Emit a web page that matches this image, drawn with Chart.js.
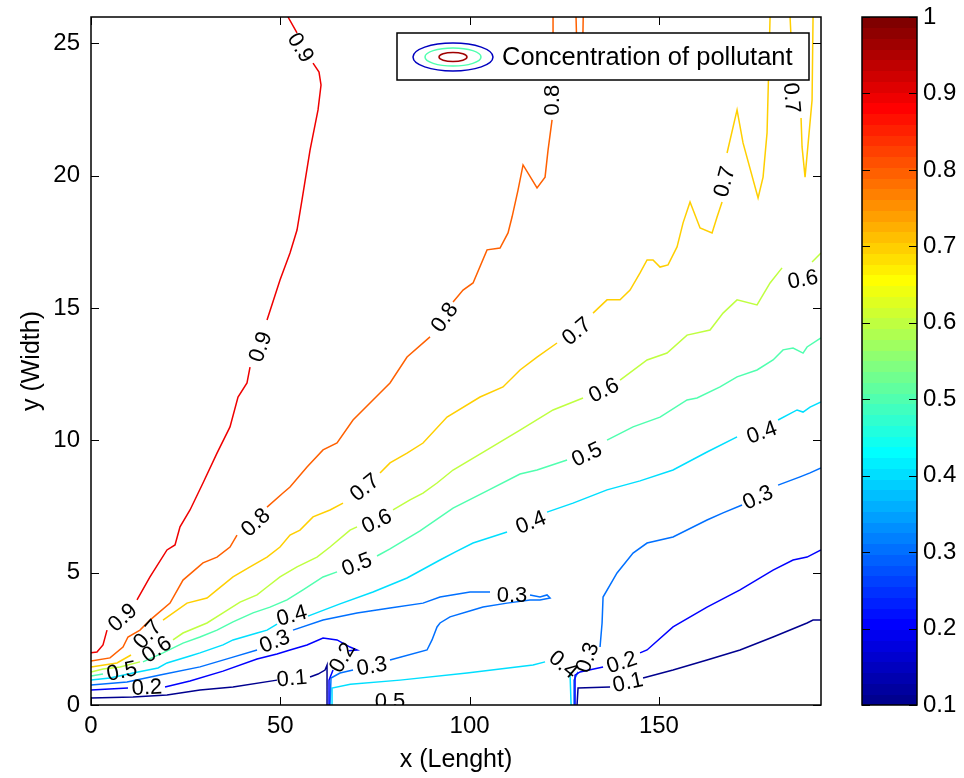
<!DOCTYPE html>
<html><head><meta charset="utf-8">
<script src="https://cdn.jsdelivr.net/npm/chart.js@4.4.1/dist/chart.umd.min.js"></script>
<style>
html,body{margin:0;padding:0;background:#fff;}
#wrap{position:relative;width:964px;height:778px;overflow:hidden;}
#main{position:absolute;left:0;top:0;}
#cbar{position:absolute;left:840px;top:0;}
</style></head><body>
<div id="wrap"><canvas id="main" width="964" height="778"></canvas><canvas id="cbar" width="124" height="778"></canvas></div>
<script>
const FONT = '"Liberation Sans", Arial, Helvetica, sans-serif';

// ---- axes / ticks ----
const xTickValues = [0, 50, 100, 150];
const yTickValues = [0, 5, 10, 15, 20, 25];
const colorbarTicks = [0.1, 0.2, 0.3, 0.4, 0.5, 0.6, 0.7, 0.8, 0.9, 1];
const colorbarTickLabels = ['0.1','0.2','0.3','0.4','0.5','0.6','0.7','0.8','0.9','1'];

// ---- contour lines (x, y) ; null = gap for label ----
const c09 = [[0,1.97],[1.58,2.0],[3.17,2.27],[4.23,2.83],null,[12.15,3.97],[15.58,4.84],[20.07,5.86],[22.19,6.05],[23.51,6.73],[26.15,7.37],[29.58,8.39],[33.28,9.52],[36.71,10.51],[38.83,11.64],[41.2,12.17],[42.0,12.77],null,[46.49,14.55],[49.92,16.06],[52.56,17.08],[54.41,17.95],[55.73,19.09],[57.85,20.97],[59.96,22.49],[60.75,23.43],[60.22,23.92],[58.64,24.26],null,[54.41,25.40],[52.03,26.0]];
const c08 = [[0,1.66],[5.02,1.78],[8.45,2.19],[9.77,2.57],[12.94,2.83],[15.58,3.21],[20.87,3.85],[24.30,4.72],[29.58,5.37],[33.28,5.59],[36.71,5.97],[38.56,6.42],null,[46.49,7.48],[50.71,8.01],[52.56,8.24],[57.05,8.99],[61.28,9.64],[64.98,9.90],[69.20,10.77],[76.33,11.79],[78.97,12.17],[83.47,13.15],[89.54,13.91],null,[95.62,15.23],[98.26,15.68],[100.90,15.95],[104.60,17.20],[108.03,17.27],[110.14,17.84],[111.20,18.44],[112.78,19.46],[114.11,20.41],[117.80,19.54],[119.92,19.95],[120.71,20.97],[121.77,22.11],null,[122.03,23.7],[122.03,26.0]];
const c08b = [[128.1,26.0],[128.4,24.4],[129.8,24.4],[130.0,26.0]];
const c07 = [[0,1.44],[6.87,1.59],[10.57,1.89],null,[19.02,3.21],[25.36,3.85],[30.64,4.04],[33.28,4.35],[37.51,4.84],[42.0,5.22],[46.49,5.59],[49.92,5.97],[52.56,6.42],[55.20,6.61],[58.64,7.11],[63.13,7.37],[66.56,7.63],null,[76.33,8.77],[78.97,9.15],[83.47,9.52],[87.69,9.90],[94.03,10.88],[102.75,11.64],[108.82,12.02],[113.31,12.66],[117.80,13.15],[123.08,13.68],null,[132.59,14.81],[136.29,15.31],[139.73,15.31],[142.37,15.68],[145.01,16.33],[146.86,16.82],[148.44,16.82],[150.29,16.55],[152.40,16.63],[154.78,17.31],[156.37,18.22],[158.21,19.01],[160.86,18.03],[164.03,17.84],[165.35,18.44],[166.67,19.01],null,[167.99,20.86],[170.63,22.49],[172.21,21.24],[176.18,19.16],[177.5,19.95],[178.55,21.62],[179.35,26.0]];
const c07b = [[184.63,26.0],[185.42,23.62],null,[187.53,22.18],[187.80,21.09],[188.59,19.95],[190.44,22.86],[190.70,26.0]];
const c06 = [[0,1.25],[3.17,1.36],[7.66,1.44],[12.94,1.63],null,[21.66,2.46],[24.30,2.72],[30.64,3.10],[34.87,3.48],[39.36,3.89],[43.85,4.16],[46.49,4.46],[49.92,4.84],[54.41,5.22],[59.69,5.59],[63.13,5.97],[68.41,6.61],[70.26,6.73],null,[79.77,7.37],[84.26,7.75],[87.69,8.01],[91.39,8.39],[95.62,8.88],[104.60,9.64],[113.31,10.39],[122.03,11.15],[129.95,11.60],null,[139.73,12.28],[146.86,13.04],[152.14,13.30],[157.42,13.98],[163.50,14.17],[166.93,14.81],[170.63,15.31],[175.91,15.12],[179.35,15.95],[182.51,16.52],null,[190.44,16.74],[192.8,17.08]];
const c05 = [[0,1.10],[3.17,1.17],null,[13.73,1.63],[19.02,1.97],[24.30,2.34],[28.79,2.57],[33.28,2.83],[37.51,3.14],[42.79,3.48],[47.28,3.70],[51.77,3.97],[56.0,4.35],[61.28,4.84],[64.98,5.03],null,[75.54,5.63],[78.97,5.90],[86.90,6.58],[95.62,7.44],[104.60,8.09],[113.31,8.73],[117.80,8.88],[125.73,9.26],null,[136.29,10.01],[143.16,10.51],[150.29,10.88],[157.42,11.53],[160.06,11.60],[166.14,12.02],[170.63,12.40],[175.91,12.66],[180.14,13.04],[182.78,13.42],[185.42,13.49],[188.06,13.30],[189.12,13.53],[192.8,13.87]];
const c04 = [[0,0.94],[5.02,1.02],[11.09,1.21],[17.7,1.40],[20.07,1.59],[26.15,1.85],[28.79,1.97],[34.87,2.27],[37.51,2.46],[43.85,2.72],[46.49,2.83],[49.13,3.06],null,[57.32,3.36],[65.77,3.82],[74.48,4.27],[83.47,4.80],[92.18,5.48],[96.14,5.78],[100.90,6.12],[109.88,6.54],null,[120.44,7.29],[127.31,7.63],[136.29,8.13],[145.01,8.47],[153.72,8.88],[162.70,9.56],[170.63,10.13],null,[181.46,10.77],[186.48,11.15],[188.06,11.07],[189.91,11.26],[192.8,11.45]];
const c04b = [[63.66,0],[63.66,0.64],[68.5,0.78],[81.62,0.94],[99.31,1.21],[116.75,1.51],[119.92,1.63],null,[126.5,1.25],[126.8,0]];
const c03 = [[0,0.76],[9.51,0.87],[18.22,1.13],[28.79,1.44],[37.51,1.81],[43.85,2.08],null,[53.35,2.83],[61.28,3.21],[70.26,3.48],[78.97,3.67],[87.69,3.85],[92.18,4.08],[100.11,4.27],[105.39,4.27],null,[115.95,4.16],[118.59,4.08],[120.44,4.16],[121.24,4.04],[118.59,3.97],[115.95,3.97],[109.88,3.85],[103.54,3.70],[100.90,3.59],[94.82,3.33],[92.18,3.10],[91.39,2.95],[90.07,2.46],[88.75,2.08],[78.97,1.70],null,[69.20,1.32],[65.77,1.21],[63.39,1.02],[63.13,0]];
const c03b = [[192.8,8.96],[189.91,8.77],[187.27,8.62],[181.46,8.31],null,[171.95,7.56],[166.93,7.26],[162.70,6.99],[153.72,6.35],[146.86,6.12],[143.16,5.74],[138.93,4.99],[135.24,4.08],[134.98,3.10],[134.44,2.19],null,[128.63,1.25],[127.58,0.94],[127.58,0]];
const c02 = [[0,0.57],[9.77,0.64],null,[19.55,0.68],[26.15,0.91],[34.87,1.28],[43.85,1.74],[49.13,1.93],[52.56,2.08],[57.05,2.27],[61.28,2.53],[64.98,2.46],[68.41,2.19],[70.26,2.08],[68.0,2.05],null,[63.92,1.32],[62.86,0.94],[62.86,0]];
const c02b = [[192.8,5.86],[189.12,5.59],[185.42,5.48],[180.14,5.10],[171.42,4.35],[162.70,3.70],[153.72,2.95],[146.86,2.08],[145.01,1.97],null,[135.24,1.44],[129.16,1.25],[127.84,1.13],[127.84,0]];
const c01 = [[0,0.26],[11.09,0.30],[20.07,0.38],[28.79,0.57],[37.51,0.68],[49.13,0.94],null,[57.85,1.06],[59.96,1.17],[61.81,1.32],[62.34,1.51],[62.34,0]];
const c01b = [[192.8,3.21],[190.70,3.21],[189.12,3.10],[180.14,2.57],[171.42,2.08],[162.70,1.70],[153.72,1.32],[145.80,1.02],null,[137.09,0.68],[128.63,0.64],[128.37,0]];

const contourPieces = [
  {level:0.1, pts:c01}, {level:0.1, pts:c01b},
  {level:0.2, pts:c02}, {level:0.2, pts:c02b},
  {level:0.3, pts:c03}, {level:0.3, pts:c03b},
  {level:0.4, pts:c04}, {level:0.4, pts:c04b},
  {level:0.5, pts:c05},
  {level:0.6, pts:c06},
  {level:0.7, pts:c07}, {level:0.7, pts:c07b},
  {level:0.8, pts:c08}, {level:0.8, pts:c08b},
  {level:0.9, pts:c09}
];

// ---- contour labels (text, x, y, angle) ----
const contourLabels = [
 {t:'0.9', x:8.45, y:3.29, a:-42},
 {t:'0.9', x:44.90, y:13.53, a:-70},
 {t:'0.9', x:55.20, y:24.83, a:58},
 {t:'0.8', x:43.58, y:6.88, a:-43},
 {t:'0.8', x:93.50, y:14.63, a:-55},
 {t:'0.8', x:122.03, y:22.86, a:-90},
 {t:'0.7', x:15.06, y:2.65, a:-48},
 {t:'0.7', x:72.37, y:8.20, a:-39},
 {t:'0.7', x:128.37, y:14.10, a:-40},
 {t:'0.7', x:167.46, y:19.77, a:-75},
 {t:'0.7', x:184.89, y:22.94, a:85},
 {t:'0.6', x:17.43, y:2.08, a:-34},
 {t:'0.6', x:75.54, y:6.92, a:-25},
 {t:'0.6', x:135.50, y:11.87, a:-26},
 {t:'0.6', x:188.06, y:16.06, a:-10},
 {t:'0.5', x:8.19, y:1.25, a:-12},
 {t:'0.5', x:70.26, y:5.29, a:-21},
 {t:'0.5', x:131.01, y:9.45, a:-25},
 {t:'0.5', x:78.97, y:0.11, a:0},
 {t:'0.4', x:53.09, y:3.36, a:-15},
 {t:'0.4', x:116.22, y:6.88, a:-22},
 {t:'0.4', x:177.23, y:10.28, a:-20},
 {t:'0.4', x:124.67, y:1.51, a:40},
 {t:'0.3', x:48.60, y:2.38, a:-22},
 {t:'0.3', x:111.20, y:4.12, a:0},
 {t:'0.3', x:74.22, y:1.44, a:-10},
 {t:'0.3', x:176.18, y:7.82, a:-25},
 {t:'0.3', x:131.27, y:1.78, a:-70},
 {t:'0.2', x:14.79, y:0.64, a:-3},
 {t:'0.2', x:66.56, y:1.78, a:-60},
 {t:'0.2', x:140.25, y:1.59, a:-18},
 {t:'0.1', x:53.09, y:0.98, a:-5},
 {t:'0.1', x:141.84, y:0.83, a:-12}
];

const legendText = 'Concentration of pollutant';

// ---- MATLAB jet(64) colormap ----
function jet64(i){
  const k = i + 1; let r=0,g=0,b=0;
  if (k <= 8){ b = 0.5 + 0.0625*k; }
  else if (k <= 24){ g = 0.0625*(k-8); b = 1; }
  else if (k <= 40){ r = 0.0625*(k-24); g = 1; b = 1 - 0.0625*(k-24); }
  else if (k <= 56){ r = 1; g = 1 - 0.0625*(k-40); }
  else { r = 1 - 0.0625*(k-56); }
  const h = v => Math.round(Math.max(0,Math.min(1,v))*255);
  return 'rgb(' + h(r) + ',' + h(g) + ',' + h(b) + ')';
}
const CMIN = 0.1, CMAX = 1.0;
function levelColor(v){
  const idx = Math.min(63, Math.floor((v - CMIN)/(CMAX - CMIN)*64 + 1e-9));
  return jet64(idx);
}

const toXY = arr => {
  let lastX = 0;
  return arr.map(p => { if (p){ lastX = p[0]; return {x:p[0], y:p[1]}; } return {x:lastX, y:null}; });
};

const datasets = contourPieces.map(c => ({
  data: toXY(c.pts),
  borderColor: levelColor(c.level),
  backgroundColor: levelColor(c.level),
  borderWidth: 1.5,
  pointRadius: 0,
  showLine: true,
  fill: false,
  tension: 0,
  spanGaps: false
}));

const noPad = s => { s.paddingTop = 0; s.paddingBottom = 0; s.paddingLeft = 0; s.paddingRight = 0; };

const mainDecor = {
  id: 'mainDecor',
  afterDatasetsDraw(chart){
    const {ctx, chartArea:a, scales:{x, y}} = chart;
    // contour labels
    ctx.save();
    ctx.beginPath(); ctx.rect(a.left, a.top, a.right - a.left, a.bottom - a.top); ctx.clip();
    ctx.fillStyle = '#000'; ctx.font = '22px ' + FONT; ctx.textAlign = 'center'; ctx.textBaseline = 'middle';
    for (const L of contourLabels){
      ctx.save();
      ctx.translate(x.getPixelForValue(L.x), y.getPixelForValue(L.y));
      ctx.rotate(L.a*Math.PI/180);
      ctx.fillText(L.t, 0, 0);
      ctx.restore();
    }
    ctx.restore();

    // axes box and inner ticks
    ctx.save();
    ctx.strokeStyle = '#000'; ctx.lineWidth = 1;
    const tl = 8;
    ctx.beginPath();
    for (const v of xTickValues){
      const px = Math.round(x.getPixelForValue(v)) + 0.5;
      ctx.moveTo(px, a.bottom); ctx.lineTo(px, a.bottom - tl);
      ctx.moveTo(px, a.top); ctx.lineTo(px, a.top + tl);
    }
    for (const v of yTickValues){
      const py = Math.round(y.getPixelForValue(v)) + 0.5;
      ctx.moveTo(a.left, py); ctx.lineTo(a.left + tl, py);
      ctx.moveTo(a.right, py); ctx.lineTo(a.right - tl, py);
    }
    ctx.stroke();
    ctx.lineWidth = 1.5;
    ctx.strokeRect(a.left, a.top, a.right - a.left, a.bottom - a.top);

    // legend box
    const bl = a.right - 424, br = a.right - 12, bt = a.top + 16, bb = a.top + 63;
    ctx.fillStyle = '#fff';
    ctx.fillRect(bl, bt, br - bl, bb - bt);
    ctx.lineWidth = 1.5; ctx.strokeStyle = '#000';
    ctx.strokeRect(bl, bt, br - bl, bb - bt);
    const cx = bl + 56, cy = (bt + bb)/2 + 0.5;
    ctx.lineWidth = 1.5;
    ctx.strokeStyle = levelColor(0.15);
    ctx.beginPath(); ctx.ellipse(cx, cy, 40, 14, 0, 0, 2*Math.PI); ctx.stroke();
    ctx.strokeStyle = levelColor(0.5);
    ctx.beginPath(); ctx.ellipse(cx, cy, 28, 9, 0, 0, 2*Math.PI); ctx.stroke();
    ctx.strokeStyle = levelColor(0.97);
    ctx.beginPath(); ctx.ellipse(cx, cy, 14, 4.5, 0, 0, 2*Math.PI); ctx.stroke();
    ctx.fillStyle = '#000'; ctx.font = '25.5px ' + FONT; ctx.textAlign = 'left'; ctx.textBaseline = 'middle';
    ctx.fillText(legendText, bl + 105, cy + 1);
    ctx.restore();
  }
};

new Chart(document.getElementById('main'), {
  type: 'scatter',
  data: { datasets },
  options: {
    responsive: false, animation: false, events: [],
    layout: { padding: { left: 0, top: 17, right: 143, bottom: 0 } },
    plugins: { legend: { display: false }, tooltip: { enabled: false } },
    scales: {
      x: {
        type: 'linear', min: 0, max: 192.8,
        grid: { display: false, drawTicks: false }, border: { display: false },
        afterBuildTicks: s => { s.ticks = xTickValues.map(v => ({value: v})); },
        afterFit: s => { s.height = 73; noPad(s); },
        ticks: { padding: 7, color: '#000', font: { size: 24, family: FONT }, callback: v => String(v) },
        title: { display: true, text: 'x (Lenght)', color: '#000', font: { size: 25, family: FONT }, padding: { top: 0, bottom: 3 } }
      },
      y: {
        type: 'linear', min: 0, max: 26,
        grid: { display: false, drawTicks: false }, border: { display: false },
        afterBuildTicks: s => { s.ticks = yTickValues.map(v => ({value: v})); },
        afterFit: s => { s.width = 91; noPad(s); },
        ticks: { padding: 11, color: '#000', font: { size: 24, family: FONT }, callback: v => String(v) },
        title: { display: true, text: 'y (Width)', color: '#000', font: { size: 25, family: FONT }, padding: { top: 17, bottom: 0 } }
      }
    }
  },
  plugins: [mainDecor]
});

// ---- colorbar ----
const cbarDecor = {
  id: 'cbarDecor',
  beforeDatasetsDraw(chart){
    const {ctx, chartArea:a, scales:{y}} = chart;
    ctx.save();
    for (let i = 0; i < 64; i++){
      const v0 = CMIN + i*(CMAX - CMIN)/64, v1 = CMIN + (i+1)*(CMAX - CMIN)/64;
      const p0 = y.getPixelForValue(v0), p1 = y.getPixelForValue(v1);
      ctx.fillStyle = jet64(i);
      ctx.fillRect(a.left, Math.floor(p1), a.right - a.left, Math.ceil(p0) - Math.floor(p1));
    }
    ctx.strokeStyle = '#000'; ctx.lineWidth = 1;
    ctx.beginPath();
    for (const v of colorbarTicks){
      const py = Math.round(y.getPixelForValue(v)) + 0.5;
      ctx.moveTo(a.left, py); ctx.lineTo(a.left + 8, py);
      ctx.moveTo(a.right, py); ctx.lineTo(a.right - 8, py);
    }
    ctx.stroke();
    ctx.lineWidth = 1.5;
    ctx.strokeRect(a.left, a.top, a.right - a.left, a.bottom - a.top);
    ctx.restore();
  }
};

new Chart(document.getElementById('cbar'), {
  type: 'scatter',
  data: { datasets: [{ data: [] }] },
  options: {
    responsive: false, animation: false, events: [],
    layout: { padding: { left: 22, top: 17, right: 0, bottom: 73 } },
    plugins: { legend: { display: false }, tooltip: { enabled: false } },
    scales: {
      x: { display: false, min: 0, max: 1 },
      y: {
        position: 'right', min: CMIN, max: CMAX,
        grid: { display: false, drawTicks: false }, border: { display: false },
        afterBuildTicks: s => { s.ticks = colorbarTicks.map(v => ({value: v})); },
        afterFit: s => { s.width = 47; noPad(s); },
        ticks: { padding: 6, color: '#000', font: { size: 24, family: FONT }, callback: (v, i) => colorbarTickLabels[i] }
      }
    }
  },
  plugins: [cbarDecor]
});
</script></body></html>
